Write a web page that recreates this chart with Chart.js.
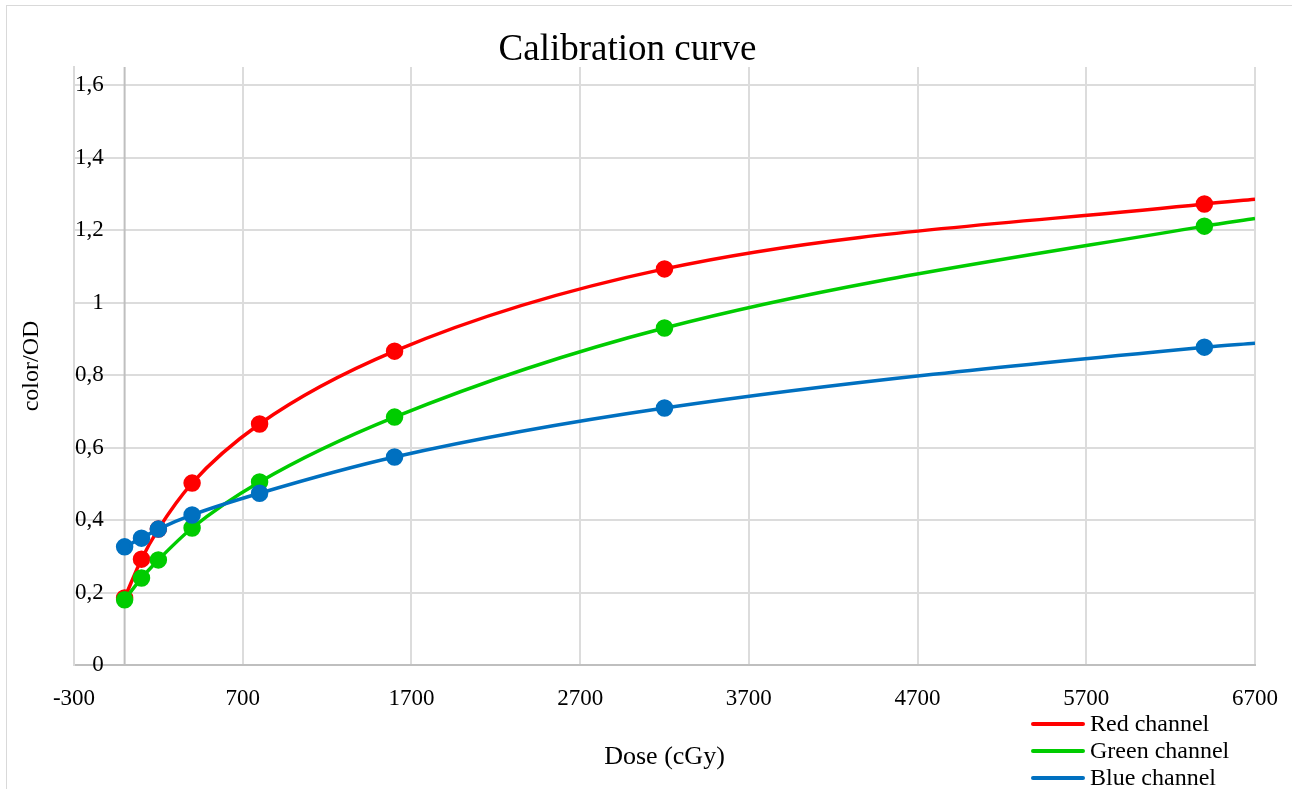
<!DOCTYPE html>
<html>
<head>
<meta charset="utf-8">
<script src="https://cdn.jsdelivr.net/npm/chart.js@4/dist/chart.umd.min.js"></script>
<style>
  body { margin: 0; background: #fff; overflow: hidden; }
  #frame { position: absolute; left: 6px; top: 5px; width: 1310px; height: 800px; border: 1px solid #d9d9d9; }
  #wrap { position: absolute; left: 0; top: 0; width: 1292px; height: 789px; }
  #legend { position: absolute; left: 1031px; top: 710px; font-family: "Liberation Serif", serif; font-size: 24px; color: #000; }
  #legend .row { height: 27px; display: flex; align-items: center; }
  #legend .swatch { width: 54px; height: 4px; margin-right: 5px; border-radius: 2px; }
</style>
</head>
<body>
<div id="frame"></div>
<div id="wrap"><canvas id="calib-chart" width="1292" height="789"></canvas></div>
<div id="legend"></div>
<script>
// Dose points (cGy) and measured color/OD per channel
var doses = [0, 100, 200, 400, 800, 1600, 3200, 6400];
var redValues = [0.185, 0.292, 0.375, 0.502, 0.665, 0.866, 1.093, 1.272];
var greenValues = [0.180, 0.240, 0.290, 0.378, 0.505, 0.684, 0.930, 1.211];
var blueValues = [0.326, 0.350, 0.375, 0.414, 0.474, 0.574, 0.709, 0.877];

// Curve continues to the right edge of the plot
var endDose = 6700;
var redEnd = 1.285;
var greenEnd = 1.232;
var blueEnd = 0.888;

var yTicks = [0, 0.2, 0.4, 0.6, 0.8, 1, 1.2, 1.4, 1.6];

var serif = '"Liberation Serif", "Times New Roman", serif';

function toPoints(values, endValue) {
  var pts = doses.map(function (d, i) { return { x: d, y: values[i] }; });
  pts.push({ x: endDose, y: endValue });
  return pts;
}

// marker on every measured dose, none on the extension point
var radii = doses.map(function () { return 7; }).concat([0]);

function channel(label, color, values, endValue, order) {
  return {
    label: label,
    data: toPoints(values, endValue),
    borderColor: color,
    backgroundColor: color,
    pointBackgroundColor: color,
    pointBorderColor: color,
    pointRadius: radii,
    pointHoverRadius: radii,
    borderWidth: 3.5,
    cubicInterpolationMode: 'monotone',
    order: order
  };
}

// vertical axis line crossing at dose 0
var zeroAxis = {
  id: 'zeroAxis',
  beforeDatasetsDraw: function (chart) {
    var x = chart.scales.x.getPixelForValue(0);
    var area = chart.chartArea;
    var ctx = chart.ctx;
    ctx.save();
    ctx.strokeStyle = '#bfbfbf';
    ctx.lineWidth = 2;
    ctx.beginPath();
    ctx.moveTo(x, area.top);
    ctx.lineTo(x, area.bottom);
    ctx.stroke();
    ctx.restore();
  }
};

var chart = new Chart(document.getElementById('calib-chart'), {
  type: 'line',
  data: {
    datasets: [
      channel('Red channel', '#ff0000', redValues, redEnd, 3),
      channel('Green channel', '#00cc00', greenValues, greenEnd, 2),
      channel('Blue channel', '#0070c0', blueValues, blueEnd, 1)
    ]
  },
  options: {
    responsive: false,
    animation: false,
    layout: { padding: { left: 0, right: 37, top: 0, bottom: 0 } },
    plugins: {
      legend: { display: false },
      tooltip: { enabled: false },
      title: {
        display: true,
        text: 'Calibration curve',
        color: '#000',
        font: { family: serif, size: 37, weight: 'normal', lineHeight: 0.92 },
        padding: { top: 33, bottom: 0 }
      }
    },
    scales: {
      x: {
        type: 'linear',
        min: -300,
        max: 6700,
        ticks: {
          stepSize: 1000,
          color: '#000',
          font: { family: serif, size: 23 },
          padding: 20,
          maxRotation: 0,
          callback: function (v) { return String(v); }
        },
        grid: { color: '#dcdcdc', lineWidth: 2, drawTicks: false },
        border: { color: '#bfbfbf', width: 2 },
        title: {
          display: true,
          text: 'Dose (cGy)',
          color: '#000',
          font: { family: serif, size: 26, lineHeight: 1 },
          padding: { top: 0, bottom: 19 }
        },
        afterFit: function (scale) {
          scale.height = 124;
          scale.paddingLeft = 0;
          scale.paddingRight = 0;
        }
      },
      y: {
        min: 0,
        max: 1.65,
        afterBuildTicks: function (scale) {
          scale.ticks = yTicks.map(function (v) { return { value: v }; });
        },
        ticks: {
          mirror: true,
          crossAlign: 'far',
          padding: 1,
          color: '#000',
          font: { family: serif, size: 23 },
          callback: function (v) { return String(+v.toFixed(1)).replace('.', ','); }
        },
        grid: { color: '#dcdcdc', lineWidth: 2, drawTicks: false },
        border: { color: '#d9d9d9', width: 2 },
        title: {
          display: true,
          text: 'color/OD',
          color: '#000',
          font: { family: serif, size: 24, lineHeight: 1 },
          padding: { top: 20, bottom: 0 }
        },
        afterFit: function (scale) { scale.width = 74; }
      }
    }
  },
  plugins: [zeroAxis]
});

// legend below the axis, built from the datasets
var legendBox = document.getElementById('legend');
chart.data.datasets.forEach(function (ds) {
  var row = document.createElement('div');
  row.className = 'row';
  var sw = document.createElement('span');
  sw.className = 'swatch';
  sw.style.background = ds.borderColor;
  var txt = document.createElement('span');
  txt.textContent = ds.label;
  row.appendChild(sw);
  row.appendChild(txt);
  legendBox.appendChild(row);
});
</script>
</body>
</html>
